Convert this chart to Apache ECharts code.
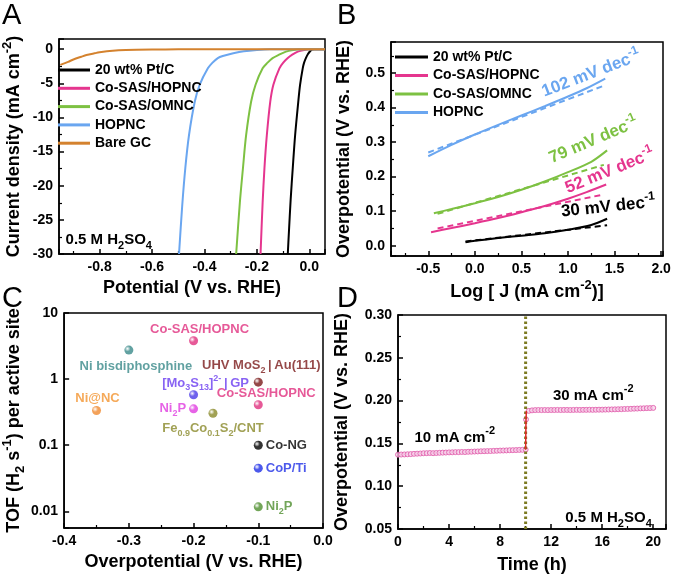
<!DOCTYPE html>
<html>
<head>
<meta charset="utf-8">
<script src="https://cdn.jsdelivr.net/npm/echarts@6/dist/echarts.min.js"></script>
<style>
  body { margin: 0; background: #fff; }
  #res { width: 677px; height: 579px; }
</style>
</head>
<body>
<div id="res"></div>
<script>
// ---- panel A: polarization curves, potential (V vs RHE) / current density (mA cm-2)
let ptcV = [-0.082, -0.078, -0.071, -0.063, -0.054, -0.042, -0.035, -0.025, -0.02, -0.013, -0.005, 0.003, 0.01, 0.02, 0.06];
let ptcJ = [-30, -27, -22, -17.4, -12.6, -7.7, -5.2, -2.8, -2.0, -1.3, -0.7, -0.3, -0.05, 0, 0];
let coHopV = [-0.186, -0.178, -0.171, -0.162, -0.149, -0.137, -0.114, -0.1, -0.082, -0.065, -0.044, -0.02, 0, 0.06];
let coHopJ = [-30, -22.5, -17.4, -12.6, -7.7, -5.2, -2.8, -2.0, -1.3, -0.8, -0.35, -0.1, 0, 0];
let coOmV = [-0.279, -0.265, -0.253, -0.241, -0.222, -0.205, -0.178, -0.16, -0.14, -0.115, -0.089, -0.06, -0.04, 0.06];
let coOmJ = [-30, -22.5, -17.4, -12.6, -7.7, -5.2, -2.8, -2.0, -1.3, -0.8, -0.35, -0.1, 0, 0];
let hopV = [-0.497, -0.485, -0.473, -0.459, -0.437, -0.418, -0.387, -0.37, -0.349, -0.33, -0.29, -0.25, -0.2, -0.15, 0.06];
let hopJ = [-30, -23, -17.4, -12.6, -7.7, -5.2, -2.8, -2.0, -1.3, -1.0, -0.6, -0.3, -0.1, 0, 0];
let bareV = [-0.95, -0.92, -0.9, -0.87, -0.85, -0.82, -0.8, -0.75, -0.7, -0.6, -0.5, -0.3, 0.06];
let bareJ = [-2.3, -1.85, -1.5, -1.1, -0.85, -0.6, -0.45, -0.22, -0.12, -0.05, -0.02, 0, 0];

// ---- panel B: Tafel plots, log J / overpotential (V), dashed = linear fits
let ptcLogJ = [-0.1, 0.0, 0.25, 0.5, 0.75, 1.0, 1.25, 1.42];
let ptcEta = [0.010, 0.014, 0.022, 0.029, 0.036, 0.046, 0.060, 0.078];
let ptcFitX = [-0.1, 1.42];
let ptcFitY = [0.012, 0.059];
let coHopLogJ = [-0.47, -0.25, 0, 0.25, 0.5, 0.75, 1.0, 1.2, 1.41];
let coHopEta = [0.039, 0.051, 0.065, 0.080, 0.097, 0.115, 0.136, 0.155, 0.177];
let coHopFitX = [-0.4, 1.36];
let coHopFitY = [0.050, 0.147];
let coOmLogJ = [-0.44, -0.25, 0, 0.25, 0.5, 0.75, 1.0, 1.25, 1.42];
let coOmEta = [0.094, 0.106, 0.123, 0.141, 0.162, 0.186, 0.213, 0.243, 0.276];
let coOmFitX = [-0.4, 1.385];
let coOmFitY = [0.092, 0.234];
let hopLogJ = [-0.5, -0.25, 0, 0.25, 0.5, 0.75, 1.0, 1.2, 1.4];
let hopEta = [0.259, 0.292, 0.322, 0.350, 0.377, 0.404, 0.432, 0.456, 0.484];
let hopFitX = [-0.5, 1.4];
let hopFitY = [0.270, 0.465];

// ---- panel C: TOF comparison
let tofLabels = ['Co-SAS/HOPNC', 'Ni bisdiphosphine', 'UHV MoS{sub|2}\u2009|\u2009Au(111)', '[Mo{sub|3}S{sub|13}]{sup|2-}\u2009|\u2009GP',
  'Co-SAS/HOPNC', 'Ni@NC', 'Ni{sub|2}P', 'Fe{sub|0.9}Co{sub|0.1}S{sub|2}/CNT', 'Co-NG', 'CoP/Ti', 'Ni{sub|2}P'];
let tofEta = [-0.2, -0.3, -0.1, -0.2, -0.1, -0.35, -0.2, -0.17, -0.1, -0.1, -0.1];
let tofVal = [3.8, 2.75, 0.9, 0.58, 0.41, 0.335, 0.355, 0.305, 0.1, 0.045, 0.0117];

// ---- panel D: chronopotentiometry, time (h) / overpotential (V)
let lowTime = [0, 0.25, 0.5, 0.75, 1, 1.25, 1.5, 1.75, 2, 2.25, 2.5, 2.75, 3, 3.25, 3.5, 3.75, 4, 4.25, 4.5, 4.75,
  5, 5.25, 5.5, 5.75, 6, 6.25, 6.5, 6.75, 7, 7.25, 7.5, 7.75, 8, 8.25, 8.5, 8.75, 9, 9.25, 9.5, 9.75, 10];
let lowEta = [0.1368, 0.1370, 0.1371, 0.1373, 0.1375, 0.1378, 0.1380, 0.1382, 0.1385, 0.1386, 0.1388, 0.1386, 0.1388,
  0.1390, 0.1392, 0.1393, 0.1395, 0.1396, 0.1398, 0.1398, 0.1400, 0.1399, 0.1402, 0.1403, 0.1405, 0.1406, 0.1408,
  0.1409, 0.1410, 0.1411, 0.1413, 0.1414, 0.1416, 0.1417, 0.1418, 0.1420, 0.1421, 0.1422, 0.1424, 0.1425, 0.1427];
let jumpTime = [10, 10.03, 10.06];
let jumpEta = [0.1427, 0.178, 0.188];
let highTime = [10.25, 10.5, 10.75, 11, 11.25, 11.5, 11.75, 12, 12.25, 12.5, 12.75, 13, 13.25, 13.5, 13.75, 14,
  14.25, 14.5, 14.75, 15, 15.25, 15.5, 15.75, 16, 16.25, 16.5, 16.75, 17, 17.25, 17.5, 17.75, 18, 18.25, 18.5,
  18.75, 19, 19.25, 19.5, 19.75, 20];
let highEta = [0.1880, 0.1886, 0.1889, 0.1890, 0.1889, 0.1890, 0.1889, 0.1890, 0.1890, 0.1891,
  0.1890, 0.1891, 0.1891, 0.1890, 0.1891, 0.1892, 0.1891, 0.1892, 0.1892, 0.1893,
  0.1892, 0.1893, 0.1894, 0.1894, 0.1895, 0.1896, 0.1897, 0.1898, 0.1899, 0.1900,
  0.1902, 0.1903, 0.1904, 0.1906, 0.1907, 0.1909, 0.1910, 0.1912, 0.1913, 0.1915];
let switchTime = 10;

let names = ['20 wt% Pt/C', 'Co-SAS/HOPNC', 'Co-SAS/OMNC', 'HOPNC', 'Bare GC'];
let colors = ['#000000', '#e5358e', '#7dc142', '#6aa6f0', '#d4822e'];
let tofColors = ['#e0307e', '#3a8a8a', '#7a1a1a', '#6a3cf0', '#e0307e', '#f39430', '#e03ce0', '#8a8a2a', '#000000', '#1f2fe6', '#4f8f2f'];
let tofDotColors = ['#e0307e', '#3a8a8a', '#7a1a1a', '#4a3ae8', '#e0307e', '#f08a30', '#e03ce0', '#8a8a2a', '#000000', '#1f2fe6', '#4f8f2f'];
let tofLabelPos = ['top', 'bottom', 'top', 'top', 'top', 'top', 'left', 'bottom', 'right', 'right', 'right'];
let tofLabelOffset = [[6, 5], [7, 0], [3, 0], [12, 5], [8, 5], [1, 4], [0, 0], [0, -1], [0, 0], [0, 0], [0, 0]];

let font = 'Liberation Sans';

function pairs(xs, ys) {
  return xs.map((x, i) => [x, ys[i]]);
}

function tickFmt(step, digits) {
  return function (v) {
    let k = v / step;
    if (Math.abs(k - Math.round(k)) > 1e-6) return '';
    let r = Math.round(k) * step;
    if (Math.abs(r) < 1e-9) r = 0;
    return r.toFixed(digits);
  };
}

function logFmt(v) {
  let l = Math.log10(v);
  if (Math.abs(l - Math.round(l)) > 1e-6) return '';
  return String(+v.toPrecision(1));
}

// rich styles for axis names / labels (echarts label style)
function richFor(size, color, supH, subH) {
  return {
    sup: {fontSize: Math.round(size * 0.7), fontWeight: 'bold', fontFamily: font, color: color, lineHeight: supH, verticalAlign: 'top'},
    sub: {fontSize: Math.round(size * 0.7), fontWeight: 'bold', fontFamily: font, color: color, lineHeight: subH, verticalAlign: 'bottom'}
  };
}

// rich styles for graphic text (zrender style)
function zrRich(size, color) {
  return {
    sup: {fontSize: Math.round(size * 0.72), fontWeight: 'bold', fontFamily: font, fill: color, lineHeight: 10, verticalAlign: 'top'},
    sub: {fontSize: Math.round(size * 0.75), fontWeight: 'bold', fontFamily: font, fill: color, lineHeight: 15, verticalAlign: 'bottom'}
  };
}

function axisBase(gridIndex, name, nameGap) {
  return {
    type: 'value',
    gridIndex: gridIndex,
    name: name,
    nameLocation: 'middle',
    nameGap: nameGap,
    nameTextStyle: {fontSize: 18, fontWeight: 'bold', fontFamily: font, color: '#000', lineHeight: 26, rich: richFor(18, '#000', 10, 16)},
    axisLine: {show: true, onZero: false, lineStyle: {color: '#000', width: 1.5}},
    axisTick: {show: true, inside: true, length: 5, lineStyle: {color: '#000', width: 1.5}},
    minorTick: {show: true, splitNumber: 2, length: 3, lineStyle: {color: '#000', width: 1.2}},
    axisLabel: {fontSize: 14, fontWeight: 'bold', fontFamily: font, color: '#000', margin: 6},
    splitLine: {show: false}
  };
}

let chartDom = document.getElementById('res');
let myChart = echarts.init(chartDom);

let xA = axisBase(0, 'Potential (V vs. RHE)', 21);
xA.min = -0.955; xA.max = 0.06; xA.splitNumber = 5;
xA.axisLabel.formatter = tickFmt(0.2, 1);
let yA = axisBase(0, 'Current density (mA cm{sup|-2})', 32);
yA.min = -30; yA.max = 1.5; yA.interval = 5;
yA.axisLabel.formatter = tickFmt(5, 0);

let xB = axisBase(1, 'Log [ J (mA cm{sup|-2})]', 23);
xB.min = -0.9; xB.max = 2.02; xB.splitNumber = 6;
xB.axisLabel.formatter = tickFmt(0.5, 1);
let yB = axisBase(1, 'Overpotential (V vs. RHE)', 34);
yB.min = -0.03; yB.max = 0.59; yB.splitNumber = 6;
yB.axisLabel.formatter = tickFmt(0.1, 1);

let xC = axisBase(2, 'Overpotential (V vs. RHE)', 20);
xC.min = -0.4; xC.max = 0; xC.interval = 0.1;
xC.axisLabel.formatter = tickFmt(0.1, 1);
let yC = axisBase(2, 'TOF (H{sub|2} s{sup|-1}) per active site', 33);
yC.type = 'log'; yC.min = 0.0056; yC.max = 10;
yC.minorTick = {show: false};
yC.axisLabel.formatter = logFmt;

let xD = axisBase(3, 'Time (h)', 23);
xD.min = 0; xD.max = 21; xD.interval = 4;
xD.axisLabel.formatter = tickFmt(4, 0);
let yD = axisBase(3, 'Overpotential (V vs. RHE)', 43);
yD.min = 0.05; yD.max = 0.30; yD.interval = 0.05;
yD.axisLabel.formatter = tickFmt(0.05, 2);

let lsv = [[ptcV, ptcJ], [coHopV, coHopJ], [coOmV, coOmJ], [hopV, hopJ], [bareV, bareJ]];
let tafel = [[ptcLogJ, ptcEta], [coHopLogJ, coHopEta], [coOmLogJ, coOmEta], [hopLogJ, hopEta]];
let fits = [[ptcFitX, ptcFitY], [coHopFitX, coHopFitY], [coOmFitX, coOmFitY], [hopFitX, hopFitY]];

let series = [];
lsv.forEach(function (c, i) {
  series.push({
    name: names[i], type: 'line', xAxisIndex: 0, yAxisIndex: 0,
    data: pairs(c[0], c[1]), symbol: 'none', smooth: 0.3,
    lineStyle: {width: 2, color: colors[i]}, itemStyle: {color: colors[i]}
  });
});
tafel.forEach(function (c, i) {
  series.push({
    name: names[i], type: 'line', xAxisIndex: 1, yAxisIndex: 1,
    data: pairs(c[0], c[1]), symbol: 'none', smooth: 0.3,
    lineStyle: {width: 2, color: colors[i]}, itemStyle: {color: colors[i]}
  });
});
fits.forEach(function (c, i) {
  series.push({
    name: 'fit ' + names[i], type: 'line', xAxisIndex: 1, yAxisIndex: 1,
    data: pairs(c[0], c[1]), symbol: 'none',
    lineStyle: {width: 2, color: colors[i], type: [6, 4]}
  });
});

series.push({
  name: 'TOF', type: 'scatter', xAxisIndex: 2, yAxisIndex: 2, symbolSize: 9,
  data: tofEta.map(function (x, i) {
    return {
      value: [x, tofVal[i]],
      itemStyle: {
        color: {
          type: 'radial', x: 0.35, y: 0.35, r: 0.7,
          colorStops: [{offset: 0, color: '#ffffff'}, {offset: 0.45, color: tofDotColors[i]}, {offset: 1, color: tofDotColors[i]}]
        }
      },
      label: {
        show: true, position: tofLabelPos[i], distance: 3, offset: tofLabelOffset[i],
        formatter: tofLabels[i], color: tofColors[i],
        fontSize: 13, fontWeight: 'bold', fontFamily: font, lineHeight: 18,
        rich: richFor(13, tofColors[i], 8, 10)
      }
    };
  })
});

series.push({
  name: 'switch', type: 'line', xAxisIndex: 3, yAxisIndex: 3,
  data: [[switchTime, yD.min], [switchTime, yD.max]], symbol: 'none',
  lineStyle: {color: '#7d7b22', width: 3, type: [2.5, 2.5]}
});
series.push({
  name: 'jump', type: 'line', xAxisIndex: 3, yAxisIndex: 3,
  data: pairs(jumpTime, jumpEta), symbol: 'none',
  lineStyle: {color: '#e02828', width: 1.5}
});
series.push({
  name: 'eta', type: 'scatter', xAxisIndex: 3, yAxisIndex: 3, symbol: 'circle', symbolSize: 5,
  data: pairs(lowTime, lowEta).concat([[jumpTime[1], jumpEta[1]]], pairs(highTime, highEta)),
  itemStyle: {color: '#f6d2ea', borderColor: '#e055a8', borderWidth: 1}
});

let legendText = {fontSize: 14, fontWeight: 'bold', fontFamily: font, color: '#000'};

let option = {
  animation: false,
  backgroundColor: '#fff',
  grid: [
    {left: 58, top: 39, width: 267, height: 215, show: true, borderColor: '#000', borderWidth: 1.5},
    {left: 391, top: 42, width: 272, height: 214, show: true, borderColor: '#000', borderWidth: 1.5},
    {left: 58, top: 313, width: 265, height: 215, show: true, borderColor: '#000', borderWidth: 1.5},
    {left: 398, top: 315, width: 268, height: 215, show: true, borderColor: '#000', borderWidth: 1.5}
  ],
  legend: [
    {data: names, orient: 'vertical', left: 58, top: 63, padding: 0, itemWidth: 32, itemHeight: 3, itemGap: 4.3,
      icon: 'rect', textStyle: legendText, selectedMode: false},
    {data: names.slice(0, 4), orient: 'vertical', left: 395, top: 50, padding: 0, itemWidth: 33, itemHeight: 3, itemGap: 4.5,
      icon: 'rect', textStyle: legendText, selectedMode: false}
  ],
  xAxis: [xA, xB, xC, xD],
  yAxis: [yA, yB, yC, yD],
  series: series
};

option && myChart.setOption(option);

// text annotations anchored in data coordinates
function note(axisIdx, pt, text, size, color, rot, align) {
  let p = myChart.convertToPixel({xAxisIndex: axisIdx, yAxisIndex: axisIdx}, pt);
  return {
    type: 'text', x: p[0], y: p[1], rotation: (rot || 0) * Math.PI / 180, z: 100,
    style: {
      text: text, fill: color, fontSize: size, fontWeight: 'bold', fontFamily: font,
      align: align || 'center', verticalAlign: 'middle', lineHeight: 24, rich: zrRich(size, color)
    }
  };
}

function panelLetter(x, y, t) {
  return {
    type: 'text', x: x, y: y, z: 100,
    style: {text: t, fill: '#000', fontSize: 29, fontFamily: font, align: 'left', verticalAlign: 'top'}
  };
}

myChart.setOption({
  graphic: [
    panelLetter(2, 1, 'A'),
    panelLetter(337, 1, 'B'),
    panelLetter(2, 284, 'C'),
    panelLetter(337, 284, 'D'),
    note(0, [-0.93, -27.9], '0.5 M H{sub|2}SO{sub|4}', 15, '#000', 0, 'left'),
    note(1, [1.25, 0.498], '102 mV dec{sup|-1}', 17, colors[3], 21),
    note(1, [1.274, 0.305], '79 mV dec{sup|-1}', 17, colors[2], 23),
    note(1, [1.449, 0.216], '52 mV dec{sup|-1}', 17, colors[1], 22),
    note(1, [1.433, 0.112], '30 mV dec{sup|-1}', 17, colors[0], 6),
    note(3, [4.45, 0.1566], '10 mA cm{sup|-2}', 15, '#000', 0),
    note(3, [15.3, 0.2058], '30 mA cm{sup|-2}', 15, '#000', 0),
    note(3, [16.5, 0.0635], '0.5 M H{sub|2}SO{sub|4}', 15, '#000', 0)
  ]
});
</script>
</body>
</html>
